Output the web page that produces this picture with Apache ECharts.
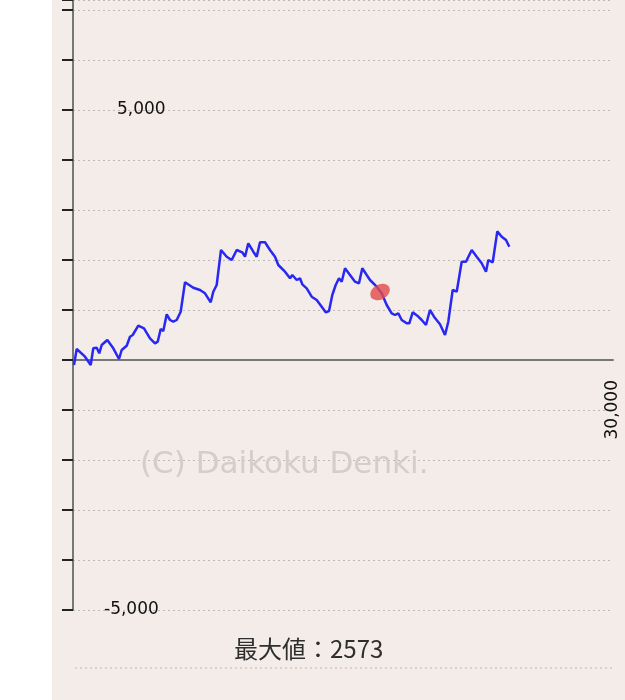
<!DOCTYPE html>
<html>
<head>
<meta charset="utf-8">
<script src="https://cdn.jsdelivr.net/npm/echarts@6/dist/echarts.min.js"></script>
<style>
html,body{margin:0;padding:0;background:#ffffff;}
#c{width:625px;height:700px;}
</style>
</head>
<body>
<div id="c"></div>
<script>
// Games played (x) and balance in medals (y)
const games = [56,206,667,983,1128,1317,1461,1594,1906,2239,2556,2706,2983,3167,3317,3628,3944,4278,4556,4706,4872,5017,5206,5389,5572,5761,5983,6222,6683,7056,7333,7650,7794,7983,8222,8539,8817,9094,9406,9556,9739,10017,10206,10389,10667,10944,11222,11406,11778,12056,12183,12428,12611,12739,12983,13261,13539,13817,14039,14222,14406,14594,14778,14928,15111,15389,15667,15889,16072,16317,16500,16872,17150,17428,17706,17889,18072,18261,18539,18683,18872,19128,19372,19611,19833,20056,20389,20667,20850,21094,21317,21594,21833,22150,22428,22706,22944,23072,23317,23572,23817,24056,24239];
const balance = [-100,220,66,-100,234,246,134,300,400,234,20,200,286,466,500,686,634,434,334,366,620,580,914,800,766,800,966,1554,1446,1400,1334,1154,1366,1500,2200,2066,2000,2200,2154,2066,2334,2166,2066,2354,2354,2200,2066,1900,1766,1634,1700,1600,1634,1514,1434,1266,1200,1066,954,980,1300,1500,1634,1566,1834,1700,1566,1534,1834,1700,1600,1466,1334,1100,934,900,934,800,734,734,954,886,800,700,1000,866,714,500,766,1400,1366,1966,1966,2200,2066,1934,1766,2000,1954,2573,2466,2400,2266];
// hand-drawn red mark position
const markGames = [17056];
const markValue = [1360];
const yTickLabels = {"5000": "5,000", "-5000": "-5,000"};
const xTickLabels = {"30000": "30,000"};
const maxText = "最大値：2573";
const watermark = "(C) Daikoku Denki.";

const lineData = games.map((g, i) => [g, balance[i]]);
const markData = markGames.map((g, i) => [g, markValue[i]]);

const chart = echarts.init(document.getElementById('c'), null, {renderer: 'canvas'});
chart.setOption({
  animation: false,
  backgroundColor: '#ffffff',
  grid: {left: 73, right: 12, top: 0, bottom: 90, containLabel: false},
  graphic: [
    {type: 'rect', z: -10, silent: true, shape: {x: 52, y: 0, width: 573, height: 700}, style: {fill: '#f3ece8'}},
    {type: 'text', z: 1, left: 140, top: 449, style: {text: watermark, fontFamily: 'DejaVu Sans', fontSize: 31, fill: '#d3cecb'}},
    {type: 'line', z: 1, shape: {x1: 75, y1: 668, x2: 613, y2: 668}, style: {stroke: '#bfbab7', lineWidth: 1.2, lineDash: [2, 3]}},
    {type: 'text', z: 2, left: 234, top: 637, style: {text: maxText, fontFamily: 'Noto Sans CJK JP', fontSize: 24, fill: '#2e2e2e'}}
  ],
  xAxis: {
    type: 'value', min: 0, max: 30000, interval: 30000,
    offset: -250,
    axisLine: {show: true, onZero: false, lineStyle: {color: '#777777', width: 2}},
    axisTick: {show: false},
    splitLine: {show: false},
    axisLabel: {
      rotate: 90, margin: 20, fontFamily: 'DejaVu Sans', fontSize: 17, color: '#111',
      formatter: v => xTickLabels[String(v)] || ''
    }
  },
  yAxis: {
    type: 'value', min: -5000, max: 7200, interval: 1000,
    axisLine: {show: true, lineStyle: {color: '#777777', width: 2}},
    axisTick: {show: true, inside: false, length: 11, lineStyle: {color: '#222', width: 2}},
    splitLine: {show: true, lineStyle: {color: '#bfbab7', width: 1.2, type: [2, 3]}},
    axisLabel: {
      inside: true, margin: 31, fontFamily: 'DejaVu Sans', fontSize: 17, color: '#111',
      formatter: v => {
        const t = yTickLabels[String(v)];
        if (!t) return '';
        return v > 0 ? '{p|' + t + '}' : '{n|' + t + '}';
      },
      rich: {
        p: {padding: [0, 0, 0, 13], fontFamily: 'DejaVu Sans', fontSize: 17, color: '#111'},
        n: {fontFamily: 'DejaVu Sans', fontSize: 17, color: '#111'}
      }
    }
  },
  series: [
    {
      type: 'line', data: lineData, showSymbol: false, smooth: false, z: 3,
      lineStyle: {color: '#2828f2', width: 2.5}
    },
    {
      type: 'scatter', data: markData, z: 4,
      symbol: 'circle', symbolSize: [21, 15], symbolRotate: 30,
      itemStyle: {color: '#e34a4a'}
    }
  ]
});
</script>
</body>
</html>
